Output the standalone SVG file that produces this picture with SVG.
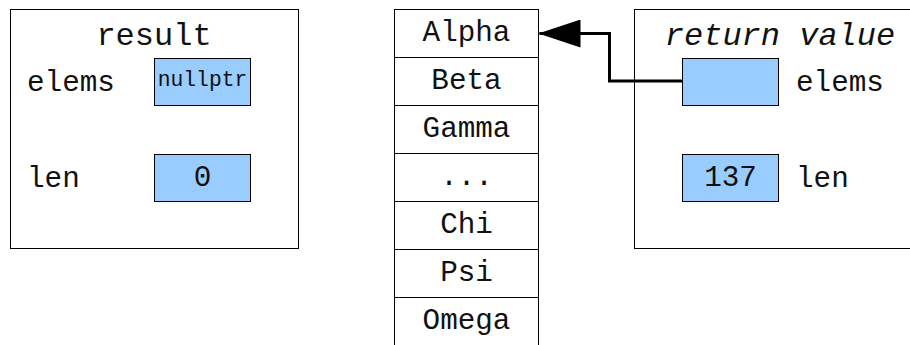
<svg xmlns="http://www.w3.org/2000/svg" width="910" height="345" viewBox="0 0 910 345">
<style>
.frame{fill:#fff;stroke:#000;stroke-width:1}
.cell{fill:#99ccff;stroke:#000;stroke-width:1}
.row{fill:#fff;stroke:#000;stroke-width:1}
text{font-family:"Liberation Mono","Courier New",monospace;fill:#111}
.t{font-size:32px;text-anchor:middle}
.l{font-size:29.3px}
.c{font-size:29.3px;text-anchor:middle}
.s{font-size:21.3px;text-anchor:middle}
.conn{fill:none;stroke:#000;stroke-width:3}
</style>
<defs>
<marker id="ah" markerUnits="userSpaceOnUse" markerWidth="42" markerHeight="28" refX="41" refY="14" orient="auto">
<path d="M0,0 L42,14 L0,28 Z" fill="#000"/>
</marker>
</defs>
<rect width="910" height="345" fill="#fff"/>
<g id="result">
<rect class="frame" x="10.5" y="9.5" width="288" height="239"/>
<text class="t" x="154" y="45">result</text>
<text class="l" x="27" y="91">elems</text>
<rect class="cell" x="154.5" y="58.5" width="96" height="47"/>
<text class="s" x="202.5" y="86">nullptr</text>
<text class="l" x="27" y="187">len</text>
<rect class="cell" x="154.5" y="154.5" width="96" height="47"/>
<text class="c" x="202.5" y="186">0</text>
</g>
<g id="array">
<rect class="row" x="394.5" y="9.5" width="144" height="48"/>
<text class="c" x="466.5" y="41">Alpha</text>
<rect class="row" x="394.5" y="57.5" width="144" height="48"/>
<text class="c" x="466.5" y="89">Beta</text>
<rect class="row" x="394.5" y="105.5" width="144" height="48"/>
<text class="c" x="466.5" y="137">Gamma</text>
<rect class="row" x="394.5" y="153.5" width="144" height="48"/>
<text class="c" x="466.5" y="185">...</text>
<rect class="row" x="394.5" y="201.5" width="144" height="48"/>
<text class="c" x="466.5" y="233">Chi</text>
<rect class="row" x="394.5" y="249.5" width="144" height="48"/>
<text class="c" x="466.5" y="281">Psi</text>
<rect class="row" x="394.5" y="297.5" width="144" height="48"/>
<text class="c" x="466.5" y="329">Omega</text>
</g>
<g id="return_value">
<rect class="frame" x="634.5" y="9.5" width="300" height="239"/>
<text class="t" x="780" y="45" font-style="italic">return value</text>
<rect class="cell" x="682.5" y="58.5" width="96" height="47"/>
<text class="l" x="796" y="91">elems</text>
<rect class="cell" x="682.5" y="154.5" width="96" height="47"/>
<text class="c" x="730.5" y="186">137</text>
<text class="l" x="796" y="187">len</text>
</g>
<g id="connectors">
<path class="conn" d="M682,81 L609.5,81 L609.5,33.5 L539.5,33.5" marker-end="url(#ah)"/>
</g>
</svg>
